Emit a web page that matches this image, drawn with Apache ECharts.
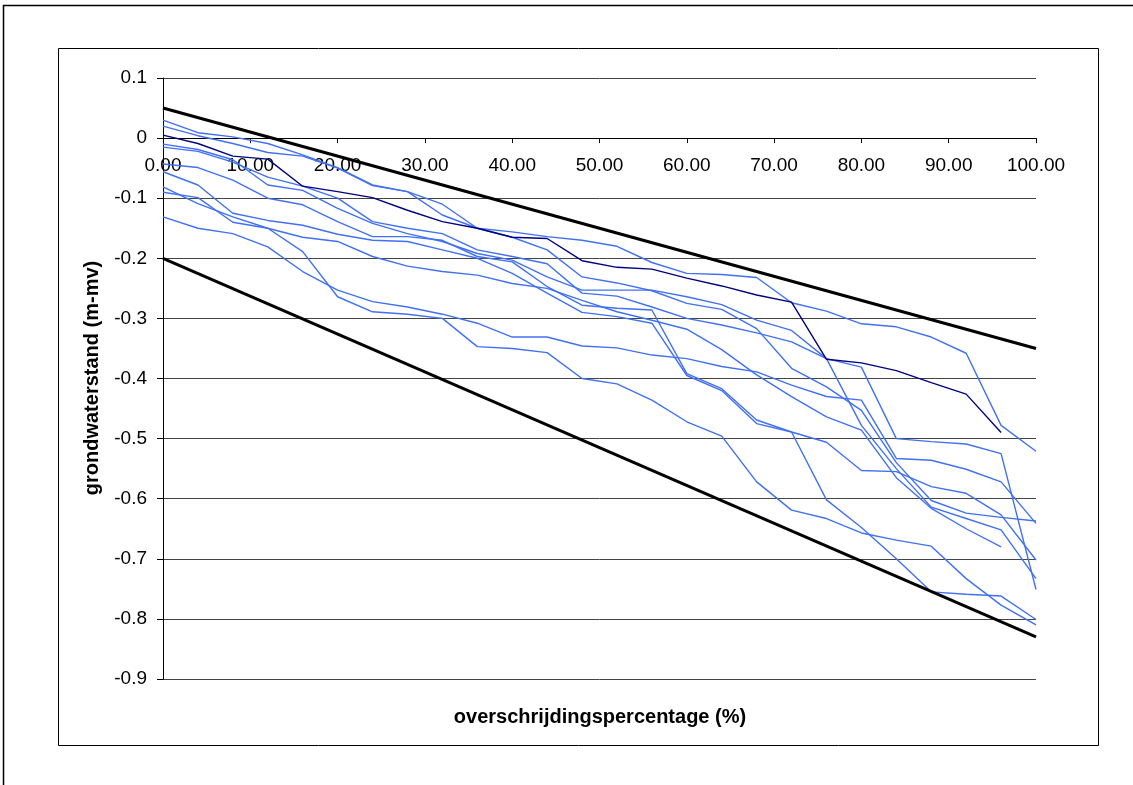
<!DOCTYPE html>
<html>
<head>
<meta charset="utf-8">
<script src="https://cdn.jsdelivr.net/npm/echarts@6/dist/echarts.min.js"></script>
<style>
html,body{margin:0;padding:0;background:#fff;}
#chart{width:1133px;height:785px;}
</style>
</head>
<body>
<div id="chart"></div>
<script>
// x positions (exceedance percentage)
var pct = [0,4,8,12,16,20,24,28,32,36,40,44,48,52,56,60,64,68,72,76,80,84,88,92,96,100];

// groundwater level series (m-mv)
var serA = [0.030,0.009,0.002,-0.009,-0.028,-0.049,-0.078,-0.089,-0.110,-0.150,-0.156,-0.164,-0.170,-0.180,-0.207,-0.225,-0.227,-0.232,-0.274,-0.288,-0.309,-0.314,-0.331,-0.358,-0.478,-0.521];
var serB = [0.020,0.004,-0.009,-0.024,-0.030,-0.050,-0.079,-0.089,-0.128,-0.150,-0.165,-0.186,-0.231,-0.241,-0.254,-0.275,-0.285,-0.317,-0.383,-0.414,-0.453,-0.540,-0.603,-0.624,-0.631,-0.637];
var serC = [-0.010,-0.019,-0.036,-0.078,-0.087,-0.117,-0.142,-0.159,-0.172,-0.192,-0.203,-0.231,-0.253,-0.253,-0.253,-0.264,-0.277,-0.303,-0.320,-0.367,-0.381,-0.500,-0.505,-0.509,-0.525,-0.751];
var serD = [-0.015,-0.022,-0.040,-0.065,-0.080,-0.100,-0.139,-0.150,-0.159,-0.186,-0.197,-0.209,-0.258,-0.263,-0.281,-0.300,-0.311,-0.324,-0.339,-0.367,-0.478,-0.550,-0.614,-0.633,-0.652,-0.733];
var serE = [-0.043,-0.049,-0.070,-0.100,-0.111,-0.139,-0.164,-0.164,-0.170,-0.197,-0.206,-0.247,-0.278,-0.283,-0.286,-0.392,-0.417,-0.469,-0.489,-0.602,-0.648,-0.700,-0.755,-0.759,-0.762,-0.801];
var serF = [-0.056,-0.078,-0.125,-0.137,-0.145,-0.160,-0.170,-0.172,-0.186,-0.200,-0.225,-0.258,-0.290,-0.297,-0.308,-0.395,-0.420,-0.475,-0.489,-0.506,-0.553,-0.555,-0.580,-0.591,-0.627,-0.702];
var serG = [-0.081,-0.109,-0.131,-0.150,-0.189,-0.264,-0.289,-0.293,-0.300,-0.347,-0.350,-0.357,-0.400,-0.409,-0.436,-0.472,-0.496,-0.572,-0.619,-0.633,-0.657,-0.669,-0.679,-0.733,-0.777,-0.810];
var serH = [-0.090,-0.099,-0.140,-0.150,-0.165,-0.172,-0.197,-0.213,-0.222,-0.228,-0.242,-0.250,-0.270,-0.289,-0.303,-0.318,-0.352,-0.394,-0.430,-0.464,-0.486,-0.565,-0.616,-0.650,-0.680];
var serI = [-0.131,-0.150,-0.159,-0.181,-0.222,-0.253,-0.272,-0.281,-0.293,-0.308,-0.331,-0.331,-0.346,-0.349,-0.361,-0.367,-0.380,-0.389,-0.411,-0.430,-0.436,-0.533,-0.536,-0.551,-0.572,-0.641];
var serNavy = [0.005,-0.009,-0.030,-0.035,-0.080,-0.089,-0.099,-0.120,-0.139,-0.150,-0.165,-0.167,-0.204,-0.215,-0.218,-0.233,-0.246,-0.261,-0.273,-0.368,-0.374,-0.387,-0.407,-0.426,-0.490];

// envelope lines
var envX = [0,100];
var upperEnv = [0.05,-0.35];
var lowerEnv = [-0.20,-0.83];

var xTitle = 'overschrijdingspercentage (%)';
var yTitle = 'grondwaterstand (m-mv)';

function zip(xs, ys){ var out=[]; for (var i=0;i<ys.length;i++){ out.push([xs[i], ys[i]]); } return out; }

var blue = '#4171f2';
var blueSeries = [serA, serB, serC, serD, serE, serF, serG, serH, serI];
var series = [];
blueSeries.forEach(function(s){
  series.push({type:'line', data: zip(pct, s), showSymbol:false, symbol:'none',
    lineStyle:{color:blue, width:1.4}, silent:true, z:2});
});
series.push({type:'line', data: zip(pct, serNavy), showSymbol:false, symbol:'none',
  lineStyle:{color:'#000080', width:1.4}, silent:true, z:3});
series.push({type:'line', data: zip(envX, upperEnv), showSymbol:false, symbol:'none',
  lineStyle:{color:'#000', width:3}, silent:true, z:4});
series.push({type:'line', data: zip(envX, lowerEnv), showSymbol:false, symbol:'none',
  lineStyle:{color:'#000', width:3}, silent:true, z:4});

// grid geometry: y from -0.9 (bottom) to 0.1 (top); x-axis drawn at y = 0
var gridTop = 78, gridBottomPx = 679, yMin = -0.9, yMax = 0.1;
var zeroOffset = -(gridBottomPx - gridTop) * (0 - yMin) / (yMax - yMin);

var font = 'Liberation Sans, Arial, sans-serif';
var chart = echarts.init(document.getElementById('chart'), null, {renderer:'canvas'});
chart.setOption({
  animation:false,
  backgroundColor:'#fff',
  grid:{left:163, right:97, top:gridTop, bottom:785 - gridBottomPx, containLabel:false},
  xAxis:{type:'value', min:0, max:100, interval:10, position:'bottom', offset:zeroOffset,
    axisLine:{show:true, onZero:false, lineStyle:{color:'#000', width:1}},
    axisTick:{show:true, inside:false, length:5, lineStyle:{color:'#000'}},
    axisLabel:{show:true, margin:18, color:'#000', fontSize:19, fontFamily:font,
      formatter:function(v){ return v.toFixed(2); }},
    splitLine:{show:false}},
  yAxis:{type:'value', min:yMin, max:yMax, interval:0.1,
    axisLine:{show:true, onZero:false, lineStyle:{color:'#000', width:1}},
    axisTick:{show:true, inside:false, length:6, lineStyle:{color:'#000'}},
    axisLabel:{show:true, margin:16, color:'#000', fontSize:19, fontFamily:font,
      formatter:function(v){ var r=Math.round(v*10)/10; return Math.abs(r)<1e-9 ? '0' : String(r); }},
    splitLine:{show:true, lineStyle:{color:'#444', width:1}}},
  graphic:[
    {type:'rect', shape:{x:3.5, y:5.5, width:1300, height:1000}, style:{fill:'none', stroke:'#000', lineWidth:1.5}, silent:true, z:-1},
    {type:'rect', shape:{x:58.5, y:48.5, width:1040, height:697}, style:{fill:'none', stroke:'#000', lineWidth:1}, silent:true, z:-1},
    {type:'text', x:600, y:717, style:{text:xTitle, align:'center', verticalAlign:'middle', fill:'#000', font:'bold 20px ' + font}, silent:true},
    {type:'text', x:92, y:378, rotation:Math.PI/2, style:{text:yTitle, align:'center', verticalAlign:'middle', fill:'#000', font:'bold 20px ' + font}, silent:true}
  ],
  series:series
});
</script>
</body>
</html>
